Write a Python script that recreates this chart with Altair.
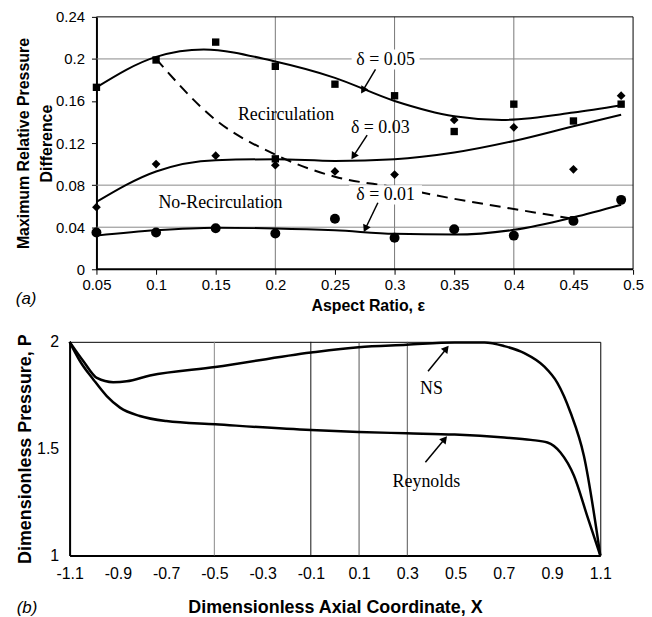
import math
import altair as alt
import pandas as pd

# ---------------- Panel (a) data ----------------
eps = [0.05, 0.1, 0.15, 0.2, 0.25, 0.3, 0.35, 0.4, 0.45, 0.49]
pts_d05 = [0.173, 0.199, 0.216, 0.193, 0.176, 0.165, 0.131, 0.157, 0.141, 0.157]
pts_d03 = [0.059, 0.100, 0.108, 0.099, 0.093, 0.090, 0.142, 0.135, 0.095, 0.165]
pts_d01 = [0.035, 0.035, 0.039, 0.034, 0.048, 0.030, 0.038, 0.032, 0.046, 0.066]

fit_eps = [0.05, 0.1, 0.14, 0.2, 0.25, 0.3, 0.35, 0.39, 0.45, 0.49]
fit_d05 = [0.173, 0.202, 0.209, 0.1975, 0.182, 0.160, 0.1455, 0.142, 0.149, 0.156]
fit_eps2 = [0.05, 0.1, 0.15, 0.2, 0.25, 0.3, 0.35, 0.4, 0.45, 0.49]
fit_d03 = [0.064, 0.093, 0.1037, 0.1046, 0.103, 0.1046, 0.111, 0.122, 0.136, 0.147]
fit_d01 = [0.032, 0.037, 0.0394, 0.0388, 0.037, 0.0337, 0.033, 0.0375, 0.0494, 0.0614]

bound_eps = [0.1, 0.15, 0.2, 0.25, 0.3, 0.35, 0.4, 0.45]
bound_val = [0.200, 0.142, 0.109, 0.088, 0.078, 0.067, 0.0573, 0.048]
bound_mark_eps = [0.2, 0.45]
bound_mark_val = [0.105, 0.047]

a_xticks = [0.05, 0.1, 0.15, 0.2, 0.25, 0.3, 0.35, 0.4, 0.45, 0.5]
a_yticks = [0, 0.04, 0.08, 0.12, 0.16, 0.2, 0.24]
a_vgrid = [0.2, 0.3, 0.4]
a_hgrid = [0.04, 0.08, 0.2]

# frame of panel (a): top edge, right edge, bottom axis line
a_frame_x = [0.05, 0.5, 0.05]
a_frame_x2 = [0.5, 0.5, 0.5]
a_frame_y = [0.24, 0.0, 0.0]
a_frame_y2 = [0.24, 0.24, 0.0]
a_frame_w = [1, 1, 2]

a_labels = ["δ = 0.05", "δ = 0.03", "δ = 0.01", "Recirculation", "No-Recirculation"]
a_label_x = [0.2925, 0.288, 0.2925, 0.209, 0.154]
a_label_y = [0.1994, 0.134, 0.0709, 0.147, 0.0633]
a_box_x = [0.264, 0.262]
a_box_x2 = [0.321, 0.323]
a_box_y = [0.190, 0.0615]
a_box_y2 = [0.209, 0.0800]
a_arrow_x = [0.284, 0.277, 0.286]
a_arrow_y = [0.190, 0.1276, 0.0633]
a_arrow_x2 = [0.2735, 0.2655, 0.2755]
a_arrow_y2 = [0.170, 0.1075, 0.0385]

# ---------------- Panel (b) data ----------------
ns_x = [-1.1, -1.042, -0.987, -0.919, -0.863, -0.767, -0.496, -0.099, 0.098, 0.297,
        0.496, 0.62, 0.702, 0.785, 0.867, 0.922, 0.977, 1.032, 1.1]
ns_p = [2.0, 1.908, 1.831, 1.811, 1.815, 1.842, 1.882, 1.950, 1.975, 1.986,
        1.997, 1.997, 1.98, 1.947, 1.885, 1.808, 1.668, 1.467, 1.0]
re_x = [-1.1, -1.056, -1.001, -0.946, -0.891, -0.809, -0.699, -0.496, -0.099, 0.098,
        0.297, 0.496, 0.702, 0.812, 0.881, 0.935, 0.991, 1.045, 1.1]
re_p = [2.0, 1.908, 1.823, 1.746, 1.692, 1.653, 1.629, 1.614, 1.587, 1.578,
        1.572, 1.566, 1.552, 1.541, 1.529, 1.482, 1.373, 1.188, 1.0]

b_xticks = [-1.1, -0.9, -0.7, -0.5, -0.3, -0.1, 0.1, 0.3, 0.5, 0.7, 0.9, 1.1]
b_yticks = [1, 1.5, 2]
b_vgrid = [-0.5, -0.1, 0.1, 0.3]
b_vgrid_color = ["#888888", "#111111", "#555555", "#555555"]

b_labels = ["NS", "Reynolds"]
b_label_x = [0.40, 0.379]
b_label_y = [1.777, 1.343]
b_arrow_x = [0.386, 0.375]
b_arrow_y = [1.862, 1.436]
b_arrow_x2 = [0.462, 0.455]
b_arrow_y2 = [1.968, 1.545]

SANS = "Liberation Sans"
SERIF = "Liberation Serif"

# ---------------- Panel (a) chart ----------------
A_SHIFT = 27          # panel (a) axis starts further right than panel (b)
A_PX = 1200.0         # pixels per unit of aspect ratio
AW, AH = 540 + A_SHIFT, 254
ax_dom = [0.05 - A_SHIFT / A_PX, 0.5]
ay_dom = [0, 0.24]


def head_angle(x1, y1, x2, y2, sx, sy):
    dx = (x2 - x1) * sx
    dy = -(y2 - y1) * sy
    return math.degrees(math.atan2(dx, -dy)) % 360


xsa = alt.Scale(domain=ax_dom, nice=False, zero=False)
ysa = alt.Scale(domain=ay_dom, nice=False, zero=False)
xa = alt.X("x:Q", scale=xsa,
           axis=alt.Axis(values=a_xticks, format=".2~f", title="Aspect Ratio, ε",
                         tickSize=5, labelPadding=3, labelFontSize=15, labelFont=SANS,
                         titleFont=SANS, titleFontSize=16, titleFontWeight="bold",
                         titlePadding=5, titleX=300, grid=False, domain=False,
                         tickColor="black", labelColor="black", titleColor="black",
                         labelFlush=False))
ya = alt.Y("y:Q", scale=ysa,
           axis=alt.Axis(values=a_yticks, format=".2~f",
                         title=["Maximum Relative Pressure", "Difference"],
                         titleLineHeight=23, tickSize=5, labelPadding=7, labelFontSize=15,
                         labelFont=SANS, titleFont=SANS, titleFontSize=16,
                         titleFontWeight="bold", titlePadding=1, grid=False,
                         offset=-A_SHIFT,
                         domainColor="black", domainWidth=2, tickColor="black",
                         labelColor="black", titleColor="black", labelFlush=False))

a_vg = alt.Chart(pd.DataFrame({"x": a_vgrid})).mark_rule(color="#777777", strokeWidth=1).encode(x=xa)
a_hg = alt.Chart(pd.DataFrame({"y": a_hgrid, "x": [0.05] * len(a_hgrid),
                               "x2": [0.5] * len(a_hgrid)})).mark_rule(
    color="#888888", strokeWidth=1).encode(y=ya, x=xa, x2="x2:Q")
a_frame = alt.Chart(pd.DataFrame({"x": a_frame_x, "x2": a_frame_x2, "y": a_frame_y,
                                  "y2": a_frame_y2, "w": a_frame_w})).mark_rule(color="black").encode(
    x=xa, x2="x2:Q", y=ya, y2="y2:Q", strokeWidth=alt.StrokeWidth("w:Q", scale=None))

fits = pd.concat([
    pd.DataFrame({"x": fit_eps, "y": fit_d05, "s": "d05"}),
    pd.DataFrame({"x": fit_eps2, "y": fit_d03, "s": "d03"}),
    pd.DataFrame({"x": fit_eps2, "y": fit_d01, "s": "d01"}),
])
a_fit = alt.Chart(fits).mark_line(color="black", strokeWidth=2, interpolate="monotone").encode(
    x=xa, y=ya, detail="s:N")
a_bound = alt.Chart(pd.DataFrame({"x": bound_eps, "y": bound_val})).mark_line(
    color="black", strokeWidth=2, strokeDash=[11, 7], interpolate="monotone").encode(x=xa, y=ya)

a_boxes = alt.Chart(pd.DataFrame({"x": a_box_x, "x2": a_box_x2, "y": a_box_y, "y2": a_box_y2})).mark_rect(
    color="white").encode(x=xa, x2="x2:Q", y=ya, y2="y2:Q")

pts = pd.concat([
    pd.DataFrame({"x": eps, "y": pts_d05, "s": "square"}),
    pd.DataFrame({"x": eps, "y": pts_d03, "s": "diamond"}),
    pd.DataFrame({"x": eps, "y": pts_d01, "s": "circle"}),
    pd.DataFrame({"x": bound_mark_eps, "y": bound_mark_val, "s": "square"}),
])
a_pts = alt.Chart(pts).mark_point(filled=True, color="black", opacity=1).encode(
    x=xa, y=ya,
    shape=alt.Shape("s:N", scale=alt.Scale(domain=["square", "diamond", "circle"],
                                            range=["square", "diamond", "circle"]), legend=None),
    size=alt.Size("s:N", scale=alt.Scale(domain=["square", "diamond", "circle"],
                                          range=[55, 100, 40]), legend=None))

a_text = alt.Chart(pd.DataFrame({"x": a_label_x, "y": a_label_y, "t": a_labels})).mark_text(
    font=SERIF, fontSize=18, color="black").encode(x=xa, y=ya, text="t:N")

sya = AH / (ay_dom[1] - ay_dom[0])
a_arr = pd.DataFrame({"x": a_arrow_x, "y": a_arrow_y, "x2": a_arrow_x2, "y2": a_arrow_y2})
a_arr["ang"] = [head_angle(r.x, r.y, r.x2, r.y2, A_PX, sya) for r in a_arr.itertuples()]
a_shaft = alt.Chart(a_arr).mark_rule(color="black", strokeWidth=1.5).encode(
    x=xa, y=ya, x2="x2:Q", y2="y2:Q")
a_head = alt.Chart(a_arr).mark_point(shape="triangle-up", filled=True, color="black",
                                     opacity=1, size=70).encode(
    x=alt.X("x2:Q", scale=xsa), y=alt.Y("y2:Q", scale=ysa),
    angle=alt.Angle("ang:Q", scale=None))

top = alt.layer(a_vg, a_hg, a_fit, a_bound, a_boxes, a_pts, a_text, a_shaft, a_head, a_frame).properties(
    width=AW, height=AH,
    view=alt.ViewBackground(strokeOpacity=0),
    title=alt.TitleParams("(a)", orient="bottom", anchor="start", frame="bounds",
                          font=SANS, fontSize=17, fontStyle="italic", fontWeight="normal",
                          color="black", dy=-22, offset=0))

# ---------------- Panel (b) chart ----------------
BW, BH = 534, 215
bx_dom = [-1.1, 1.1]
by_dom = [1, 2]

xb = alt.X("x:Q", scale=alt.Scale(domain=bx_dom, nice=False, zero=False),
           axis=alt.Axis(values=b_xticks,
                         labelExpr="datum.value < 0 ? '-' + format(-datum.value, '.1f') : format(datum.value, '.1f')",
                         title="Dimensionless Axial Coordinate, X",
                         tickSize=0, labelPadding=10, labelFontSize=16, labelFont=SANS,
                         titleFont=SANS, titleFontSize=18, titleFontWeight="bold",
                         titlePadding=17, grid=False, domainColor="black", domainWidth=2,
                         labelColor="black", titleColor="black", labelFlush=False))
yb = alt.Y("y:Q", scale=alt.Scale(domain=by_dom, nice=False, zero=False),
           axis=alt.Axis(values=b_yticks, format=".1~f", title="Dimensionless Pressure, P",
                         tickSize=0, labelPadding=11, labelFontSize=16, labelFont=SANS,
                         titleFont=SANS, titleFontSize=18, titleFontWeight="bold",
                         titlePadding=2, grid=False, domainColor="black", domainWidth=2,
                         labelColor="black", titleColor="black", labelFlush=False))

b_vg = alt.Chart(pd.DataFrame({"x": b_vgrid, "c": b_vgrid_color})).mark_rule(strokeWidth=1).encode(
    x=xb, color=alt.Color("c:N", scale=None))

curves = pd.concat([
    pd.DataFrame({"x": ns_x, "y": ns_p, "s": "NS"}),
    pd.DataFrame({"x": re_x, "y": re_p, "s": "Reynolds"}),
])
b_lines = alt.Chart(curves).mark_line(color="black", strokeWidth=2.5, interpolate="monotone").encode(
    x=xb, y=yb, detail="s:N")
b_text = alt.Chart(pd.DataFrame({"x": b_label_x, "y": b_label_y, "t": b_labels})).mark_text(
    font=SERIF, fontSize=18, color="black").encode(x=xb, y=yb, text="t:N")

sxb = BW / (bx_dom[1] - bx_dom[0])
syb = BH / (by_dom[1] - by_dom[0])
b_arr = pd.DataFrame({"x": b_arrow_x, "y": b_arrow_y, "x2": b_arrow_x2, "y2": b_arrow_y2})
b_arr["ang"] = [head_angle(r.x, r.y, r.x2, r.y2, sxb, syb) for r in b_arr.itertuples()]
b_shaft = alt.Chart(b_arr).mark_rule(color="black", strokeWidth=1.5).encode(
    x=xb, y=yb, x2="x2:Q", y2="y2:Q")
b_head = alt.Chart(b_arr).mark_point(shape="triangle-up", filled=True, color="black",
                                     opacity=1, size=70).encode(
    x=alt.X("x2:Q", scale=alt.Scale(domain=bx_dom, nice=False, zero=False)),
    y=alt.Y("y2:Q", scale=alt.Scale(domain=by_dom, nice=False, zero=False)),
    angle=alt.Angle("ang:Q", scale=None))

bottom = alt.layer(b_vg, b_lines, b_text, b_shaft, b_head).properties(
    width=BW, height=BH,
    view=alt.ViewBackground(stroke="black", strokeWidth=1),
    title=alt.TitleParams("(b)", orient="bottom", anchor="start", frame="bounds",
                          font=SANS, fontSize=17, fontStyle="italic", fontWeight="normal",
                          color="black", dy=-16, offset=0))

chart = alt.vconcat(top, bottom, spacing=20).properties(
    padding={"left": 7, "top": 0, "right": 0, "bottom": 0}
).configure(background="white")

chart.save("out.html", embed_options={"renderer": "svg", "actions": False})
